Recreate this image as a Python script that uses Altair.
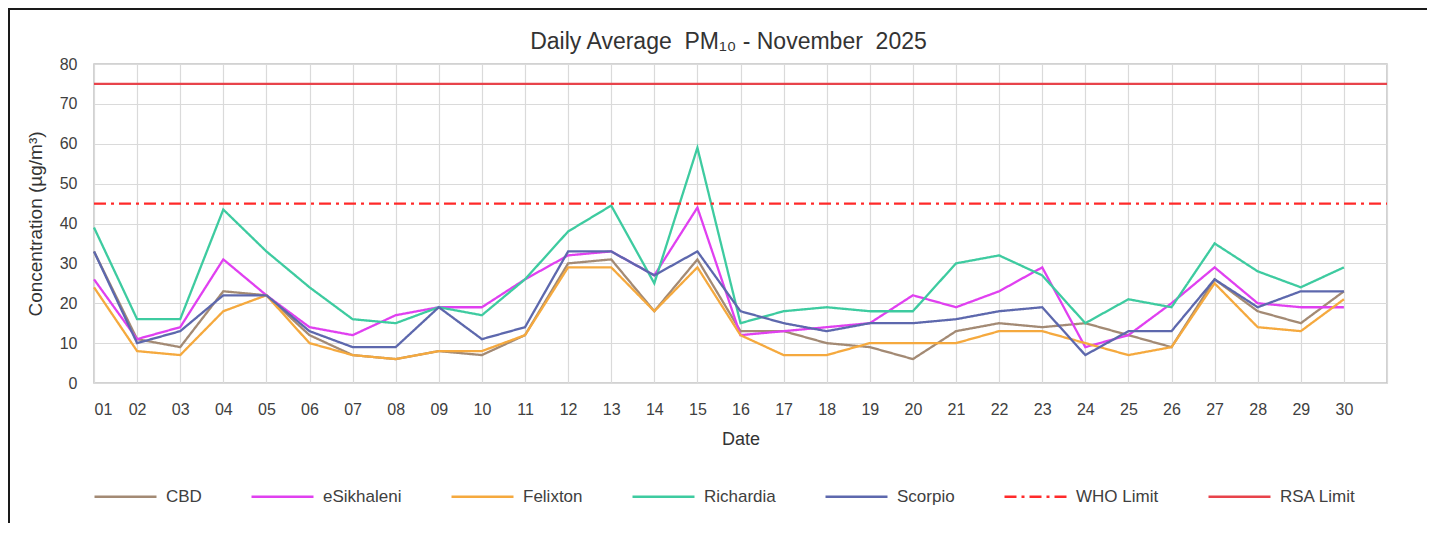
import altair as alt
import pandas as pd

days = list(range(1, 31))
series_names = ["CBD", "eSikhaleni", "Felixton", "Richardia", "Scorpio", "WHO Limit", "RSA Limit"]
series_colors = ["#a38a74", "#e040f0", "#f5a93e", "#3ecba0", "#5d68ad", "#ff2a2a", "#e8434b"]
series_dash = [[1, 0], [1, 0], [1, 0], [1, 0], [1, 0], [12, 5, 3, 5], [1, 0]]

cbd = [33, 11, 9, 23, 22, 12, 7, 6, 8, 7, 12, 30, 31, 18, 31, 13, 13, 10, 9, 6, 13, 15, 14, 15, 12, 9, 26, 18, 15, 23]
esikhaleni = [26, 11, 14, 31, 22, 14, 12, 17, 19, 19, 26, 32, 33, 27, 44, 12, 13, 14, 15, 22, 19, 23, 29, 9, 12, 20, 29, 20, 19, 19]
felixton = [24, 8, 7, 18, 22, 10, 7, 6, 8, 8, 12, 29, 29, 18, 29, 12, 7, 7, 10, 10, 10, 13, 13, 10, 7, 9, 25, 14, 13, 21]
richardia = [39, 16, 16, 43.5, 33, 24, 16, 15, 19, 17, 26, 38, 44.5, 25, 59, 15, 18, 19, 18, 18, 30, 32, 27, 15, 21, 19, 35, 28, 24, 29]
scorpio = [33, 10, 13, 22, 22, 13, 9, 9, 19, 11, 14, 33, 33, 27, 33, 18, 15, 13, 15, 15, 16, 18, 19, 7, 13, 13, 26, 19, 23, 23]

limit_days = [1, 31]
who_limit = [45, 45]
rsa_limit = [75, 75]

rows = []
for name, vals in [("CBD", cbd), ("eSikhaleni", esikhaleni), ("Felixton", felixton),
                   ("Richardia", richardia), ("Scorpio", scorpio)]:
    for d, v in zip(days, vals):
        rows.append({"day": d, "value": v, "series": name})
for name, vals in [("WHO Limit", who_limit), ("RSA Limit", rsa_limit)]:
    for d, v in zip(limit_days, vals):
        rows.append({"day": d, "value": v, "series": name})
df = pd.DataFrame(rows)

FONT = "Liberation Sans"

legend_opts = dict(title=None, orient="none", legendX=-1, legendY=400,
                   direction="horizontal", columns=7,
                   symbolType="stroke", symbolSize=3844, symbolStrokeWidth=2.5,
                   labelFontSize=17, labelOffset=8, columnPadding=44,
                   labelFont=FONT, labelColor="#404040")

lines = alt.Chart(df).mark_line(strokeWidth=2.3).encode(
    x=alt.X("day:Q",
            scale=alt.Scale(domain=[1, 31], nice=False, zero=False),
            axis=alt.Axis(values=list(range(1, 32)),
                          labelExpr="datum.value > 30 ? '' : (datum.value < 10 ? '0' + datum.value : '' + datum.value)",
                          title="Date", grid=True, ticks=False, tickSize=0, domain=False,
                          labelPadding=18, titlePadding=13, labelFontSize=16, titleFontSize=18,
                          titleFontWeight="normal", labelFont=FONT, titleFont=FONT,
                          labelColor="#404040", titleColor="#333333",
                          gridColor="#dadada", gridWidth=1.2)),
    y=alt.Y("value:Q",
            scale=alt.Scale(domain=[0, 80], nice=False),
            axis=alt.Axis(values=list(range(0, 90, 10)), title="Concentration (µg/m³)",
                          grid=True, ticks=False, tickSize=0, domain=False,
                          labelPadding=17, titlePadding=14, labelFontSize=16, titleFontSize=19,
                          titleFontWeight="normal", labelFont=FONT, titleFont=FONT,
                          labelColor="#404040", titleColor="#333333",
                          gridColor="#dadada", gridWidth=1.2)),
    color=alt.Color("series:N",
                    scale=alt.Scale(domain=series_names, range=series_colors),
                    legend=alt.Legend(**legend_opts)),
    strokeDash=alt.StrokeDash("series:N",
                              scale=alt.Scale(domain=series_names, range=series_dash),
                              legend=alt.Legend(**legend_opts)),
    order=alt.Order("series:N"),
    detail="series:N",
)

frame_top = alt.Chart(df).mark_rule(color="#1a1a1a", strokeWidth=2).encode(
    x=alt.value(-86), x2=alt.value(1340), y=alt.value(-55))
frame_left = alt.Chart(df).mark_rule(color="#1a1a1a", strokeWidth=2).encode(
    x=alt.value(-85), y=alt.value(-55), y2=alt.value(460))

title_text = "Daily Average\u00a0\u00a0PM₁₀ - November\u00a0\u00a02025"

chart = alt.layer(lines, frame_top, frame_left).properties(
    width=1293, height=319,
    background="white",
    autosize=alt.AutoSizeParams(type="none"),
    padding={"left": 86, "top": 56, "right": 40, "bottom": 140},
    title=alt.TitleParams(title_text, fontSize=23, font=FONT,
                          fontWeight="normal", color="#333333", offset=-46, dx=-12,
                          anchor="middle", frame="group"),
).configure_view(
    stroke="#c4c4c4", strokeWidth=1.5
)

chart.save("out.html", embed_options={"renderer": "svg", "actions": False})
